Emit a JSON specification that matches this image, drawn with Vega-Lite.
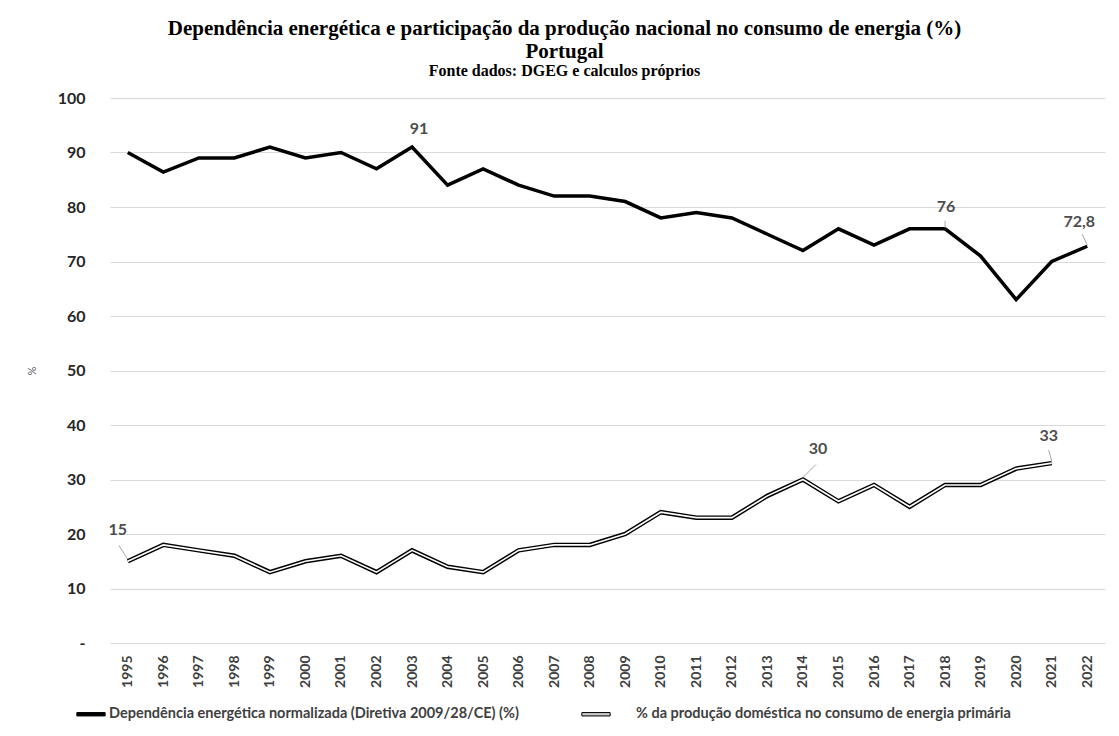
{
  "$schema": "https://vega.github.io/schema/vega-lite/v6.json",
  "width": 995,
  "height": 545,
  "autosize": {"type": "none"},
  "padding": {"left": 110, "top": 98, "right": 14, "bottom": 93},
  "background": "white",
  "title": {
    "text": ["Dependência energética e participação da produção nacional no consumo de energia (%)", "Portugal"],
    "subtitle": "Fonte dados: DGEG e calculos próprios",
    "font": "Liberation Serif", "fontSize": 21, "fontWeight": "bold", "color": "black", "lineHeight": 23,
    "subtitleFont": "Liberation Serif", "subtitleFontSize": 16, "subtitleFontWeight": "bold", "subtitleColor": "black",
    "subtitlePadding": 1, "anchor": "middle", "dx": -43, "offset": 11
  },
  "data": {"values": [
    {"year": 1995, "s": "A", "v": 90}, {"year": 1996, "s": "A", "v": 86.4}, {"year": 1997, "s": "A", "v": 89},
    {"year": 1998, "s": "A", "v": 89}, {"year": 1999, "s": "A", "v": 91}, {"year": 2000, "s": "A", "v": 89},
    {"year": 2001, "s": "A", "v": 90}, {"year": 2002, "s": "A", "v": 87}, {"year": 2003, "s": "A", "v": 91, "lab": "91"},
    {"year": 2004, "s": "A", "v": 84}, {"year": 2005, "s": "A", "v": 87}, {"year": 2006, "s": "A", "v": 84},
    {"year": 2007, "s": "A", "v": 82}, {"year": 2008, "s": "A", "v": 82}, {"year": 2009, "s": "A", "v": 81},
    {"year": 2010, "s": "A", "v": 78}, {"year": 2011, "s": "A", "v": 79}, {"year": 2012, "s": "A", "v": 78},
    {"year": 2013, "s": "A", "v": 75}, {"year": 2014, "s": "A", "v": 72}, {"year": 2015, "s": "A", "v": 76},
    {"year": 2016, "s": "A", "v": 73}, {"year": 2017, "s": "A", "v": 76}, {"year": 2018, "s": "A", "v": 76, "lab": "76"},
    {"year": 2019, "s": "A", "v": 71}, {"year": 2020, "s": "A", "v": 63}, {"year": 2021, "s": "A", "v": 70},
    {"year": 2022, "s": "A", "v": 72.8, "lab": "72,8"},
    {"year": 1995, "s": "B", "v": 15, "lab": "15"}, {"year": 1996, "s": "B", "v": 18}, {"year": 1997, "s": "B", "v": 17},
    {"year": 1998, "s": "B", "v": 16}, {"year": 1999, "s": "B", "v": 13}, {"year": 2000, "s": "B", "v": 15},
    {"year": 2001, "s": "B", "v": 16}, {"year": 2002, "s": "B", "v": 13}, {"year": 2003, "s": "B", "v": 17},
    {"year": 2004, "s": "B", "v": 14}, {"year": 2005, "s": "B", "v": 13}, {"year": 2006, "s": "B", "v": 17},
    {"year": 2007, "s": "B", "v": 18}, {"year": 2008, "s": "B", "v": 18}, {"year": 2009, "s": "B", "v": 20},
    {"year": 2010, "s": "B", "v": 24}, {"year": 2011, "s": "B", "v": 23}, {"year": 2012, "s": "B", "v": 23},
    {"year": 2013, "s": "B", "v": 27}, {"year": 2014, "s": "B", "v": 30, "lab": "30"}, {"year": 2015, "s": "B", "v": 26},
    {"year": 2016, "s": "B", "v": 29}, {"year": 2017, "s": "B", "v": 25}, {"year": 2018, "s": "B", "v": 29},
    {"year": 2019, "s": "B", "v": 29}, {"year": 2020, "s": "B", "v": 32}, {"year": 2021, "s": "B", "v": 33, "lab": "33"}
  ]},
  "encoding": {
    "x": {"field": "year", "type": "ordinal", "scale": {"type": "point", "padding": 0.5},
      "axis": {"title": null, "labelAngle": -90, "labelFont": "Lato", "labelFontSize": 14, "labelFontWeight": "bold",
        "labelColor": "#404040", "labelPadding": 12, "ticks": false, "domain": false, "grid": false, "labelBaseline": "middle", "labelAlign": "right"}},
    "y": {"field": "v", "type": "quantitative", "scale": {"domain": [0, 100], "nice": false},
      "axis": {"title": "%", "titleFont": "Lato", "titleFontSize": 11, "titleFontWeight": "normal", "titleColor": "#595959",
        "titlePadding": 20, "values": [0, 10, 20, 30, 40, 50, 60, 70, 80, 90, 100],
        "labelExpr": "datum.value === 0 ? '-' : datum.label", "labelFont": "Lato", "labelFontSize": 16, "labelFontWeight": "bold",
        "labelColor": "#262626", "labelPadding": 25, "ticks": false, "domain": false, "grid": true, "gridColor": "#d9d9d9", "gridWidth": 1}}
  },
  "layer": [
    {"transform": [{"filter": "datum.s === 'A'"}], "mark": {"type": "line", "strokeWidth": 3.5, "strokeJoin": "miter"},
      "encoding": {"color": {"field": "s", "type": "nominal", "scale": {"domain": ["A", "B"], "range": ["black", "black"]},
        "legend": {"orient": "none", "legendX": -34, "legendY": 601, "direction": "horizontal", "title": null,
          "symbolType": "M-1,-0.12H1V0.12H-1Z", "symbolSize": 800, "symbolStrokeWidth": 1,
          "labelExpr": "datum.value === 'A' ? 'Dependência energética normalizada (Diretiva 2009/28/CE) (%)' : '% da produção doméstica no consumo de energia primária'",
          "labelFont": "Lato", "labelFontSize": 14.5, "labelFontWeight": "bold", "labelColor": "#404040", "labelOffset": 3, "labelLimit": 0, "columnPadding": 60,
          "encode": {"symbols": {"update": {"fill": {"signal": "datum.value === 'A' ? 'black' : '#c8c8c8'"}, "stroke": {"value": "black"}, "strokeWidth": {"value": 1}}},
            "labels": {"update": {"dx": {"signal": "datum.value === 'B' ? 22 : 0"}}}}}}}},
    {"transform": [{"filter": "datum.s === 'B'"}], "mark": {"type": "line", "strokeWidth": 4.5, "strokeJoin": "miter"},
      "encoding": {"color": {"field": "s", "type": "nominal"}}},
    {"transform": [{"filter": "datum.s === 'B'"}], "mark": {"type": "line", "strokeWidth": 1.6, "color": "white", "strokeJoin": "miter"}, "encoding": {}},
    {"transform": [{"filter": "datum.lab === '76'"}], "mark": {"type": "rule", "color": "#a6a6a6", "strokeWidth": 1, "yOffset": -1, "y2Offset": -8},
      "encoding": {"x2": {"field": "year"}, "y2": {"field": "v"}}},
    {"transform": [{"filter": "datum.lab === '72,8'"}], "mark": {"type": "rule", "color": "#a6a6a6", "strokeWidth": 1, "yOffset": -1, "x2Offset": -5, "y2Offset": -12},
      "encoding": {"x2": {"field": "year"}, "y2": {"field": "v"}}},
    {"transform": [{"filter": "datum.lab === '15'"}], "mark": {"type": "rule", "color": "#a6a6a6", "strokeWidth": 1, "yOffset": -2, "x2Offset": -9, "y2Offset": -16},
      "encoding": {"x2": {"field": "year"}, "y2": {"field": "v"}}},
    {"transform": [{"filter": "datum.lab === '30'"}], "mark": {"type": "rule", "color": "#a6a6a6", "strokeWidth": 1, "yOffset": -2, "x2Offset": 13, "y2Offset": -15},
      "encoding": {"x2": {"field": "year"}, "y2": {"field": "v"}}},
    {"transform": [{"filter": "datum.lab === '33'"}], "mark": {"type": "rule", "color": "#a6a6a6", "strokeWidth": 1, "yOffset": -2, "x2Offset": -3, "y2Offset": -13},
      "encoding": {"x2": {"field": "year"}, "y2": {"field": "v"}}},
    {"transform": [{"filter": "datum.lab === '91'"}], "mark": {"type": "text", "font": "Lato", "fontSize": 16, "fontWeight": "bold", "color": "#4d4d4d", "baseline": "middle", "dx": 7, "dy": -18},
      "encoding": {"text": {"field": "lab"}}},
    {"transform": [{"filter": "datum.lab === '76'"}], "mark": {"type": "text", "font": "Lato", "fontSize": 16, "fontWeight": "bold", "color": "#4d4d4d", "baseline": "middle", "dx": 1, "dy": -22},
      "encoding": {"text": {"field": "lab"}}},
    {"transform": [{"filter": "datum.lab === '72,8'"}], "mark": {"type": "text", "font": "Lato", "fontSize": 16, "fontWeight": "bold", "color": "#4d4d4d", "baseline": "middle", "dx": -8, "dy": -24},
      "encoding": {"text": {"field": "lab"}}},
    {"transform": [{"filter": "datum.lab === '15'"}], "mark": {"type": "text", "font": "Lato", "fontSize": 16, "fontWeight": "bold", "color": "#4d4d4d", "baseline": "middle", "dx": -10, "dy": -31},
      "encoding": {"text": {"field": "lab"}}},
    {"transform": [{"filter": "datum.lab === '30'"}], "mark": {"type": "text", "font": "Lato", "fontSize": 16, "fontWeight": "bold", "color": "#4d4d4d", "baseline": "middle", "dx": 15, "dy": -31},
      "encoding": {"text": {"field": "lab"}}},
    {"transform": [{"filter": "datum.lab === '33'"}], "mark": {"type": "text", "font": "Lato", "fontSize": 16, "fontWeight": "bold", "color": "#4d4d4d", "baseline": "middle", "dx": -3, "dy": -27},
      "encoding": {"text": {"field": "lab"}}}
  ],
  "config": {"view": {"stroke": null}}
}
